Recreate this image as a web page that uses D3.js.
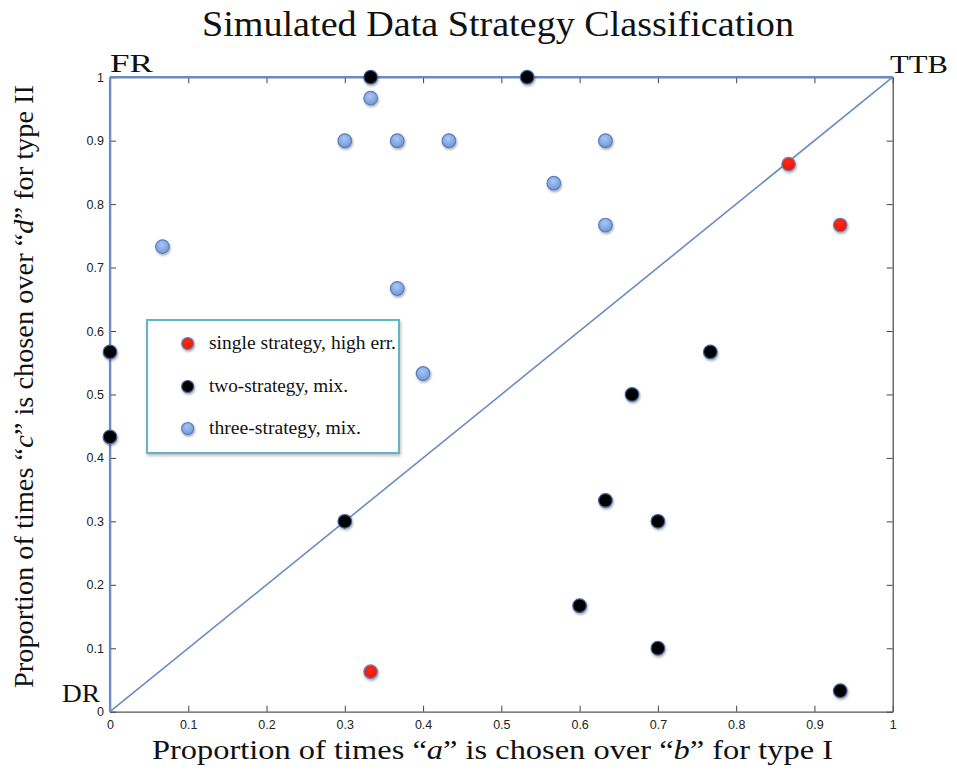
<!DOCTYPE html>
<html>
<head>
<meta charset="utf-8">
<script src="https://cdn.jsdelivr.net/npm/d3@7/dist/d3.min.js"></script>
<style>
  html, body { margin: 0; padding: 0; background: #fff; }
  svg { display: block; }
</style>
</head>
<body>
<svg id="chart" width="957" height="770"></svg>
<script>
// ---- data ----
const ticks = [0, 0.1, 0.2, 0.3, 0.4, 0.5, 0.6, 0.7, 0.8, 0.9, 1];
const tickLabels = ["0", "0.1", "0.2", "0.3", "0.4", "0.5", "0.6", "0.7", "0.8", "0.9", "1"];

const singleX = [0.867, 0.933, 0.333];
const singleY = [0.863, 0.767, 0.063];

const twoX = [0.333, 0.533, 0, 0, 0.3, 0.767, 0.667, 0.633, 0.7, 0.6, 0.7, 0.933];
const twoY = [1, 1, 0.567, 0.433, 0.3, 0.567, 0.5, 0.333, 0.3, 0.167, 0.1, 0.033];

const threeX = [0.333, 0.3, 0.367, 0.433, 0.633, 0.567, 0.633, 0.067, 0.367, 0.4];
const threeY = [0.967, 0.9, 0.9, 0.9, 0.9, 0.833, 0.767, 0.733, 0.667, 0.533];

const legendLabels = ["single strategy, high err.", "two-strategy, mix.", "three-strategy, mix."];
const cornerLabels = ["FR", "TTB", "DR"];
const titleText = "Simulated Data Strategy Classification";

// ---- layout ----
const svg = d3.select("#chart");
const x = d3.scaleLinear().domain([0, 1]).range([110, 892.7]);
const y = d3.scaleLinear().domain([0, 1]).range([711.7, 77.2]);
const serif = "'Liberation Serif', 'Times New Roman', serif";
const sans = "'Liberation Sans', Arial, Helvetica, sans-serif";
const lineBlue = "#6a8cc3";

const defs = svg.append("defs");
const sh = defs.append("filter").attr("id", "shadow").attr("x", "-50%").attr("y", "-50%").attr("width", "200%").attr("height", "200%");
sh.append("feDropShadow").attr("dx", 0.8).attr("dy", 1.6).attr("stdDeviation", 1.2)
  .attr("flood-color", "#000").attr("flood-opacity", 0.35);
const boxSh = defs.append("filter").attr("id", "boxshadow").attr("x", "-10%").attr("y", "-10%").attr("width", "120%").attr("height", "120%");
boxSh.append("feDropShadow").attr("dx", 1).attr("dy", 2).attr("stdDeviation", 1.5)
  .attr("flood-color", "#000").attr("flood-opacity", 0.25);
const gBlue = defs.append("radialGradient").attr("id", "gblue").attr("cx", "45%").attr("cy", "35%").attr("r", "65%");
gBlue.append("stop").attr("offset", "0%").attr("stop-color", "#aac6f2");
gBlue.append("stop").attr("offset", "100%").attr("stop-color", "#6f98da");
const gRed = defs.append("radialGradient").attr("id", "gred").attr("cx", "45%").attr("cy", "35%").attr("r", "65%");
gRed.append("stop").attr("offset", "0%").attr("stop-color", "#ff2a14");
gRed.append("stop").attr("offset", "100%").attr("stop-color", "#e8160a");

// ---- axes ----
const fmt = d => tickLabels[ticks.indexOf(d)] ?? String(d);

function styleAxis(g) {
  g.selectAll(".domain").attr("stroke", "#555").attr("stroke-width", 1.3);
  g.selectAll(".tick line").attr("stroke", "#444").attr("stroke-width", 1);
  g.selectAll(".tick text").attr("fill", "#222").style("font-family", sans).style("font-size", "12.5px");
}

svg.append("g").attr("transform", `translate(0,${y(0)})`)
  .call(d3.axisBottom(x).tickValues(ticks).tickFormat(fmt).tickSizeInner(-6).tickSizeOuter(0).tickPadding(8))
  .call(styleAxis);
svg.append("g").attr("transform", `translate(${x(1)},0)`)
  .call(d3.axisRight(y).tickValues(ticks).tickFormat("").tickSizeInner(-6).tickSizeOuter(0))
  .call(styleAxis);
svg.append("g").attr("transform", `translate(0,${y(1)})`)
  .call(d3.axisTop(x).tickValues(ticks).tickFormat("").tickSizeInner(-6).tickSizeOuter(0))
  .call(styleAxis);
svg.append("g").attr("transform", `translate(${x(0)},0)`)
  .call(d3.axisLeft(y).tickValues(ticks).tickFormat(fmt).tickSizeInner(-6).tickSizeOuter(0).tickPadding(6))
  .call(styleAxis);

// ---- strategy boundary lines ----
const line = d3.line().x(d => x(d[0])).y(d => y(d[1]));
const edges = [[[0, 0], [0, 1]], [[0, 1], [1, 1]]];
svg.append("g").selectAll("path").data(edges).join("path")
  .attr("d", line).attr("fill", "none").attr("stroke", lineBlue).attr("stroke-width", 2.2);
svg.append("path").datum([[0, 0], [1, 1]]).attr("d", line)
  .attr("fill", "none").attr("stroke", lineBlue).attr("stroke-width", 1.6);

// ---- points ----
const R = 6.8;
function drawPoints(xs, ys, fill, stroke) {
  svg.append("g").selectAll("circle").data(xs.map((v, i) => [v, ys[i]])).join("circle")
    .attr("cx", d => x(d[0])).attr("cy", d => y(d[1])).attr("r", R)
    .attr("fill", fill).attr("stroke", stroke).attr("stroke-width", 1.2)
    .attr("filter", "url(#shadow)");
}
drawPoints(threeX, threeY, "url(#gblue)", "#5a7fc0");
drawPoints(twoX, twoY, "#000", "#3d5f9e");
drawPoints(singleX, singleY, "url(#gred)", "#6c86b8");

// ---- legend ----
const lg = svg.append("g");
lg.append("rect").attr("x", 147).attr("y", 320).attr("width", 252).attr("height", 133)
  .attr("fill", "#fff").attr("stroke", "#62b4c7").attr("stroke-width", 2).attr("filter", "url(#boxshadow)");
const legendStyles = [["url(#gred)", "#6c86b8"], ["#000", "#3d5f9e"], ["url(#gblue)", "#5a7fc0"]];
const legendYs = [343.5, 386.5, 428.5];
const legendWidths = [187, 139, 152];
legendLabels.forEach((lab, i) => {
  lg.append("circle").attr("cx", 187.7).attr("cy", legendYs[i]).attr("r", 6)
    .attr("fill", legendStyles[i][0]).attr("stroke", legendStyles[i][1]).attr("stroke-width", 1.2)
    .attr("filter", "url(#shadow)");
  lg.append("text").attr("x", 209).attr("y", legendYs[i] + 5).text(lab)
    .attr("textLength", legendWidths[i]).attr("lengthAdjust", "spacingAndGlyphs")
    .style("font-family", serif).style("font-size", "18px").attr("fill", "#111");
});

// ---- texts ----
svg.append("text").attr("x", 498).attr("y", 36).attr("text-anchor", "middle")
  .attr("textLength", 592).attr("lengthAdjust", "spacingAndGlyphs")
  .style("font-family", serif).style("font-size", "35px").attr("fill", "#111").text(titleText);

const cornerPos = [[110, 72, 43], [890, 73, 58], [62, 702, 38]];
cornerLabels.forEach((t, i) => {
  svg.append("text").attr("x", cornerPos[i][0]).attr("y", cornerPos[i][1])
    .attr("textLength", cornerPos[i][2]).attr("lengthAdjust", "spacingAndGlyphs")
    .style("font-family", serif).style("font-size", "26px").attr("fill", "#111").text(t);
});

function axisLabel(sel, v1, v2, type) {
  sel.append("tspan").text("Proportion of times \u201c");
  sel.append("tspan").style("font-style", "italic").text(v1);
  sel.append("tspan").text("\u201d is chosen over \u201c");
  sel.append("tspan").style("font-style", "italic").text(v2);
  sel.append("tspan").text("\u201d for type " + type);
}
const xl = svg.append("text").attr("x", 492.5).attr("y", 759).attr("text-anchor", "middle")
  .attr("textLength", 681).attr("lengthAdjust", "spacingAndGlyphs")
  .style("font-family", serif).style("font-size", "28px").attr("fill", "#111");
axisLabel(xl, "a", "b", "I");
const yl = svg.append("text").attr("transform", "translate(33,386.5) rotate(-90)").attr("text-anchor", "middle")
  .attr("textLength", 603).attr("lengthAdjust", "spacingAndGlyphs")
  .style("font-family", serif).style("font-size", "28px").attr("fill", "#111");
axisLabel(yl, "c", "d", "II");
</script>
</body>
</html>
